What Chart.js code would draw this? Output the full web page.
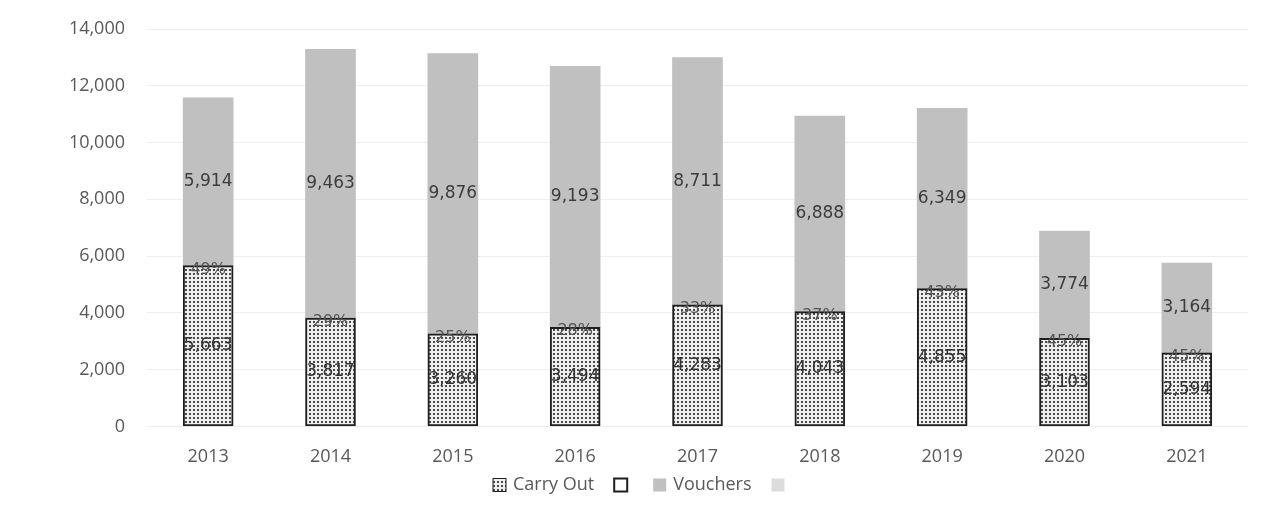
<!DOCTYPE html>
<html>
<head>
<meta charset="utf-8">
<script src="https://cdn.jsdelivr.net/npm/chart.js@4"></script>
<style>
  html, body { margin: 0; padding: 0; background: #fff; }
  #wrap { width: 1282px; height: 523px; }
</style>
</head>
<body>
<div id="wrap"><canvas id="chart" width="1282" height="523"></canvas></div>
<script>
const years = ['2013', '2014', '2015', '2016', '2017', '2018', '2019', '2020', '2021'];
const carryOut = [5663, 3817, 3260, 3494, 4283, 4043, 4855, 3103, 2594];
const vouchers = [5914, 9463, 9876, 9193, 8711, 6888, 6349, 3774, 3164];
const carryShare = ['49%', '29%', '25%', '28%', '33%', '37%', '43%', '45%', '45%'];
const yTicks = [0, 2000, 4000, 6000, 8000, 10000, 12000, 14000];
const legendNames = ['Carry Out', '', 'Vouchers', ''];

// dotted fill for the carry out bars
function makeDots() {
  const c = document.createElement('canvas');
  c.width = 4; c.height = 4;
  const g = c.getContext('2d');
  g.fillStyle = '#eeeeee';
  g.fillRect(0, 0, 4, 4);
  g.fillStyle = '#4a4a4a';
  g.fillRect(1, 1, 2, 2);
  return g.createPattern(c, 'repeat');
}
const dots = makeDots();

// value + percent labels on the bars
const barLabels = {
  id: 'barLabels',
  afterDatasetsDraw(chart) {
    const ctx = chart.ctx;
    ctx.save();
    ctx.textAlign = 'center';
    ctx.textBaseline = 'middle';
    const metaCarry = chart.getDatasetMeta(0);
    const metaVouch = chart.getDatasetMeta(1);
    metaVouch.data.forEach((bar, i) => {
      ctx.font = '17px "DejaVu Sans"';
      ctx.fillStyle = '#3c3c3c';
      ctx.fillText(vouchers[i].toLocaleString('en-US'), bar.x, (bar.y + bar.base) / 2);
    });
    metaCarry.data.forEach((bar, i) => {
      ctx.font = '17px "DejaVu Sans"';
      ctx.fillStyle = '#333';
      ctx.fillText(carryOut[i].toLocaleString('en-US'), bar.x, (bar.y + bar.base) / 2);
      ctx.font = '16px "DejaVu Sans"';
      ctx.fillStyle = '#555';
      ctx.fillText(carryShare[i], bar.x, bar.y + 4);
    });
    ctx.restore();
  }
};

// legend row under the axis (4 swatches, two without names)
const legendRow = {
  id: 'legendRow',
  afterDraw(chart) {
    const ctx = chart.ctx;
    const swatches = [
      { fill: dots, stroke: '#1e1e1e', lw: 1 },
      { fill: '#ffffff', stroke: '#1e1e1e', lw: 2 },
      { fill: '#c0c0c0', stroke: null, lw: 0 },
      { fill: '#dcdcdc', stroke: null, lw: 0 }
    ];
    const box = 13, gapText = 7, gapItem = 20, emptyGap = 26, y = 485;
    ctx.save();
    ctx.font = '18px "Open Sans"';
    ctx.textBaseline = 'middle';
    let x = 493;
    legendNames.forEach((name, i) => {
      const s = swatches[i];
      ctx.fillStyle = s.fill;
      ctx.fillRect(x, y - box / 2, box, box);
      if (s.stroke) {
        ctx.strokeStyle = s.stroke;
        ctx.lineWidth = s.lw;
        ctx.strokeRect(x, y - box / 2, box, box);
      }
      x += box;
      if (name) {
        ctx.fillStyle = '#595959';
        ctx.fillText(name, x + gapText, y);
        x += gapText + ctx.measureText(name).width + gapItem;
      } else {
        x += emptyGap;
      }
    });
    ctx.restore();
  }
};

new Chart(document.getElementById('chart'), {
  type: 'bar',
  data: {
    labels: years,
    datasets: [
      {
        label: 'Carry Out',
        data: carryOut,
        backgroundColor: dots,
        borderColor: '#1e1e1e',
        borderWidth: 2,
        borderSkipped: false,
        barThickness: 50
      },
      {
        label: 'Vouchers',
        data: vouchers,
        backgroundColor: '#c0c0c0',
        borderWidth: 0,
        barThickness: 50
      }
    ]
  },
  options: {
    responsive: false,
    animation: false,
    layout: { padding: { left: 0, right: 34, top: 29, bottom: 43 } },
    scales: {
      x: {
        stacked: true,
        grid: { display: false },
        border: { display: false },
        ticks: {
          color: '#595959',
          font: { family: '"Open Sans"', size: 18 },
          padding: 12
        }
      },
      y: {
        stacked: true,
        min: 0,
        max: 14000,
        afterFit(scale) {
          scale.width = 147;
          scale.paddingTop = 0;
        },
        afterBuildTicks(scale) { scale.ticks = yTicks.map(v => ({ value: v })); },
        grid: { color: '#eeeeee', drawTicks: false },
        border: { display: false },
        ticks: {
          color: '#595959',
          font: { family: '"Open Sans"', size: 18 },
          padding: 22,
          callback: v => v.toLocaleString('en-US')
        }
      }
    },
    plugins: {
      tooltip: { enabled: false },
      legend: { display: false }
    }
  },
  plugins: [barLabels, legendRow]
});
</script>
</body>
</html>
